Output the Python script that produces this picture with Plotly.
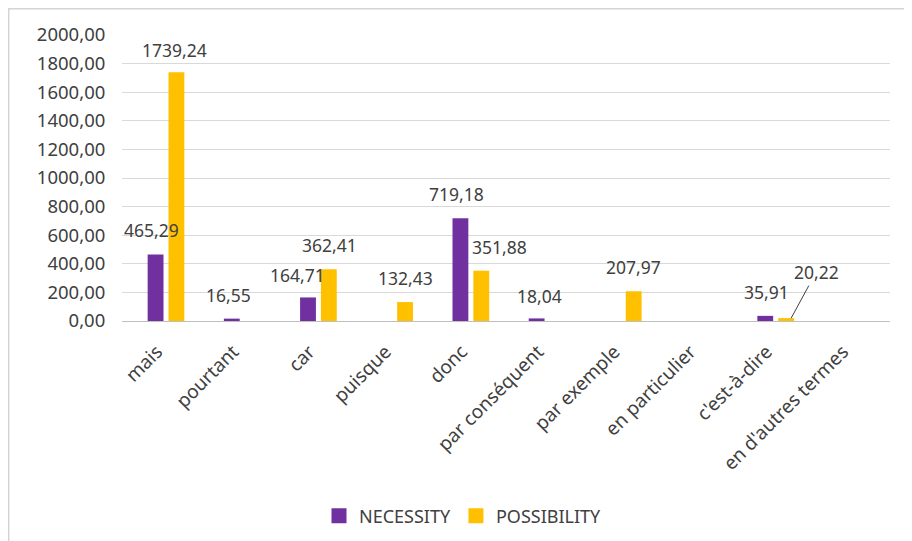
import plotly.graph_objects as go

categories = ["mais", "pourtant", "car", "puisque", "donc", "par conséquent",
              "par exemple", "en particulier", "c'est-à-dire", "en d'autres termes"]
necessity = [465.29, 16.55, 164.71, None, 719.18, 18.04, None, None, 35.91, None]
possibility = [1739.24, None, 362.41, 132.43, 351.88, None, 207.97, None, 20.22, None]

series_names = ["NECESSITY", "POSSIBILITY"]
series_colors = ["#7030A0", "#FFC000"]

# manual label nudges (pixels) -- style only
label_dx = {
    ("NECESSITY", "mais"): -4, ("POSSIBILITY", "mais"): -2,
    ("NECESSITY", "pourtant"): -3, ("NECESSITY", "car"): -10,
    ("POSSIBILITY", "car"): 1, ("NECESSITY", "donc"): -4,
    ("POSSIBILITY", "donc"): 18, ("NECESSITY", "par conséquent"): 3,
    ("NECESSITY", "c'est-à-dire"): 1,
}
label_dy = {("POSSIBILITY", "mais"): 22, ("NECESSITY", "car"): 22, ("NECESSITY", "par conséquent"): 22}

FONT = "Noto Sans"
TXT = "#404040"

fig = go.Figure()
for name, vals, col in zip(series_names, [necessity, possibility], series_colors):
    fig.add_trace(go.Bar(name=name, x=categories, y=vals, marker_color=col,
                         marker_line_width=0, showlegend=False))
# legend entries with larger square swatches
for name, col in zip(series_names, series_colors):
    fig.add_trace(go.Scatter(name=name, x=[None], y=[None], mode="markers",
                             marker=dict(symbol="square", size=15, color=col)))

slot = 21.0
for si, (name, vals) in enumerate(zip(series_names, [necessity, possibility])):
    base_shift = -slot / 2 if si == 0 else slot / 2
    for cat, v in zip(categories, vals):
        if v is None:
            continue
        txt = f"{v:.2f}".replace(".", ",")
        if name == "POSSIBILITY" and cat == "c'est-à-dire":
            fig.add_annotation(x=cat, y=v, xshift=base_shift + 5, text=txt,
                               showarrow=True, arrowhead=0, arrowwidth=1,
                               arrowcolor=TXT, ax=25, ay=-46,
                               font=dict(family=FONT, size=17.5, color=TXT))
            continue
        fig.add_annotation(x=cat, y=v, text=txt, showarrow=False,
                           xshift=base_shift + label_dx.get((name, cat), 0),
                           yshift=label_dy.get((name, cat), 24),
                           font=dict(family=FONT, size=17.5, color=TXT))

# page offset (body margin) compensation: screen coords -> figure coords
OFF = 8
FW, FH = 912 - OFF, 541 - OFF
L, W, T, H = 122 - OFF, 768, 35 - OFF, 286
def px(xs):
    return (xs - OFF - L) / W
def py(ys):
    return (T + H - (ys - OFF)) / H

shapes = []
fc = "#D4D4D4"
shapes.append(dict(type="line", xref="paper", yref="paper", x0=px(8), x1=px(920),
                   y0=py(8.7), y1=py(8.7), line=dict(color=fc, width=1.5)))
shapes.append(dict(type="line", xref="paper", yref="paper", x0=px(8.7), x1=px(8.7),
                   y0=py(8), y1=py(560), line=dict(color=fc, width=1.5)))

fig.update_layout(
    width=FW, height=FH,
    margin=dict(l=L, r=FW - L - W, t=T, b=FH - T - H, autoexpand=False),
    paper_bgcolor="white", plot_bgcolor="white",
    barmode="group", bargap=0.453, bargroupgap=0.24,
    separators=",.",
    font=dict(family=FONT, color=TXT),
    showlegend=True,
    legend=dict(orientation="h", x=px(463), xanchor="center", y=py(516), yanchor="middle",
                font=dict(family=FONT, size=18, color=TXT), traceorder="normal",
                itemwidth=30),
    shapes=shapes,
)
fig.update_yaxes(range=[0, 2000], dtick=200, tickformat=".2f",
                 showgrid=True, gridcolor="#D9D9D9", gridwidth=1.2,
                 zeroline=False, showline=False, ticks="outside", ticklen=12,
                 tickcolor="rgba(0,0,0,0)",
                 tickfont=dict(family=FONT, size=18.5, color=TXT))
fig.update_xaxes(type="category", tickangle=-45, showline=True, linecolor="#BFBFBF",
                 linewidth=1.2, ticks="", showgrid=False,
                 ticklabelstandoff=11, ticklabelshift=-9,
                 tickfont=dict(family=FONT, size=19, color=TXT))

fig.write_html("out.html")
